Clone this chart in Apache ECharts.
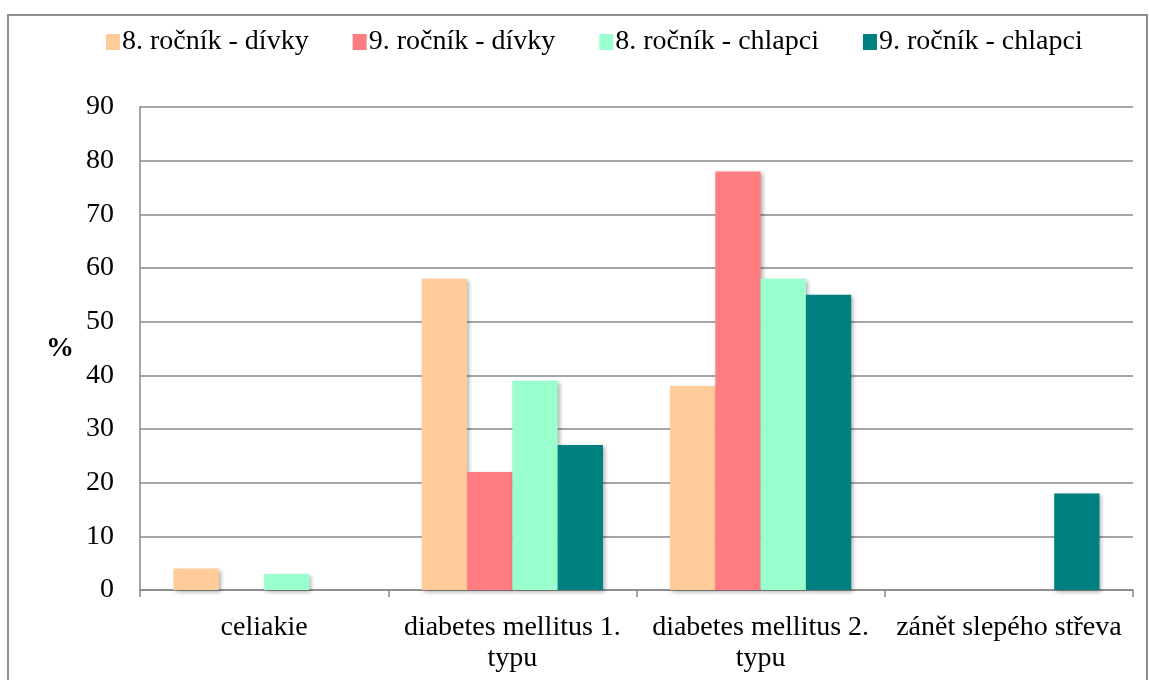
<!DOCTYPE html>
<html>
<head>
<meta charset="utf-8">
<script src="https://cdn.jsdelivr.net/npm/echarts@6/dist/echarts.min.js"></script>
<style>
  html, body { margin: 0; padding: 0; background: #fff; }
  #chart { width: 1150px; height: 680px; }
</style>
</head>
<body>
<div id="chart"></div>
<script>
// Categories (diseases) and share of pupils, in %
const categories = ['celiakie', 'diabetes mellitus 1. typu', 'diabetes mellitus 2. typu', 'zánět slepého střeva'];
const seriesNames = ['8. ročník - dívky', '9. ročník - dívky', '8. ročník - chlapci', '9. ročník - chlapci'];
const girls8 = [4, 58, 38, null];
const girls9 = [null, 22, 78, null];
const boys8 = [3, 39, 58, null];
const boys9 = [null, 27, 55, 18];
const yTicks = [0, 10, 20, 30, 40, 50, 60, 70, 80, 90];

const colors = ['#FFCC99', '#FF7C80', '#99FFCC', '#008080'];
const values = [girls8, girls9, boys8, boys9];
const font = '"Liberation Serif", "Times New Roman", serif';

const chart = echarts.init(document.getElementById('chart'), null, { renderer: 'canvas' });

chart.setOption({
  animation: false,
  backgroundColor: '#ffffff',
  textStyle: { fontFamily: font, color: '#000' },
  graphic: [{
    type: 'rect',
    shape: { x: 8, y: 15, width: 1139, height: 700 },
    style: { fill: 'none', stroke: '#8e8e8e', lineWidth: 2 },
    silent: true
  }],
  legend: {
    top: 23,
    left: 101,
    itemWidth: 14,
    itemHeight: 16,
    itemGap: 44,
    icon: 'rect',
    textStyle: { fontFamily: font, fontSize: 28, color: '#000', padding: [0, 0, 0, -3] },
    data: seriesNames
  },
  grid: { left: 140, right: 17, top: 107, bottom: 90 },
  xAxis: {
    type: 'category',
    data: categories,
    axisLine: { lineStyle: { color: '#888', width: 1.5 } },
    axisTick: { show: true, length: 7, lineStyle: { color: '#888', width: 1.5 } },
    axisLabel: {
      fontFamily: font, fontSize: 28, color: '#000', margin: 22,
      lineHeight: 31, interval: 0,
      // wrap the long diabetes names before "typu"
      formatter: v => v.replace(' typu', '\ntypu')
    }
  },
  yAxis: {
    type: 'value',
    min: 0, max: 90, interval: 10,
    name: '%',
    nameLocation: 'middle',
    nameRotate: 0,
    nameGap: 66,
    nameTextStyle: { fontFamily: font, fontSize: 28, fontWeight: 'bold', color: '#000', padding: [14, 0, 0, 0] },
    axisLine: { show: true, lineStyle: { color: '#888', width: 1.5 } },
    axisTick: { show: false },
    splitLine: { lineStyle: { color: '#888', width: 1.5 } },
    axisLabel: {
      fontFamily: font, fontSize: 28, color: '#000', margin: 26,
      formatter: v => (yTicks.includes(v) ? String(v) : '')
    }
  },
  series: seriesNames.map((name, i) => ({
    name,
    type: 'bar',
    data: values[i],
    barGap: '0%',
    barCategoryGap: '27%',
    itemStyle: {
      color: colors[i],
      shadowBlur: 4,
      shadowOffsetX: 2,
      shadowOffsetY: 2,
      shadowColor: 'rgba(0,0,0,0.3)'
    }
  }))
});
</script>
</body>
</html>
